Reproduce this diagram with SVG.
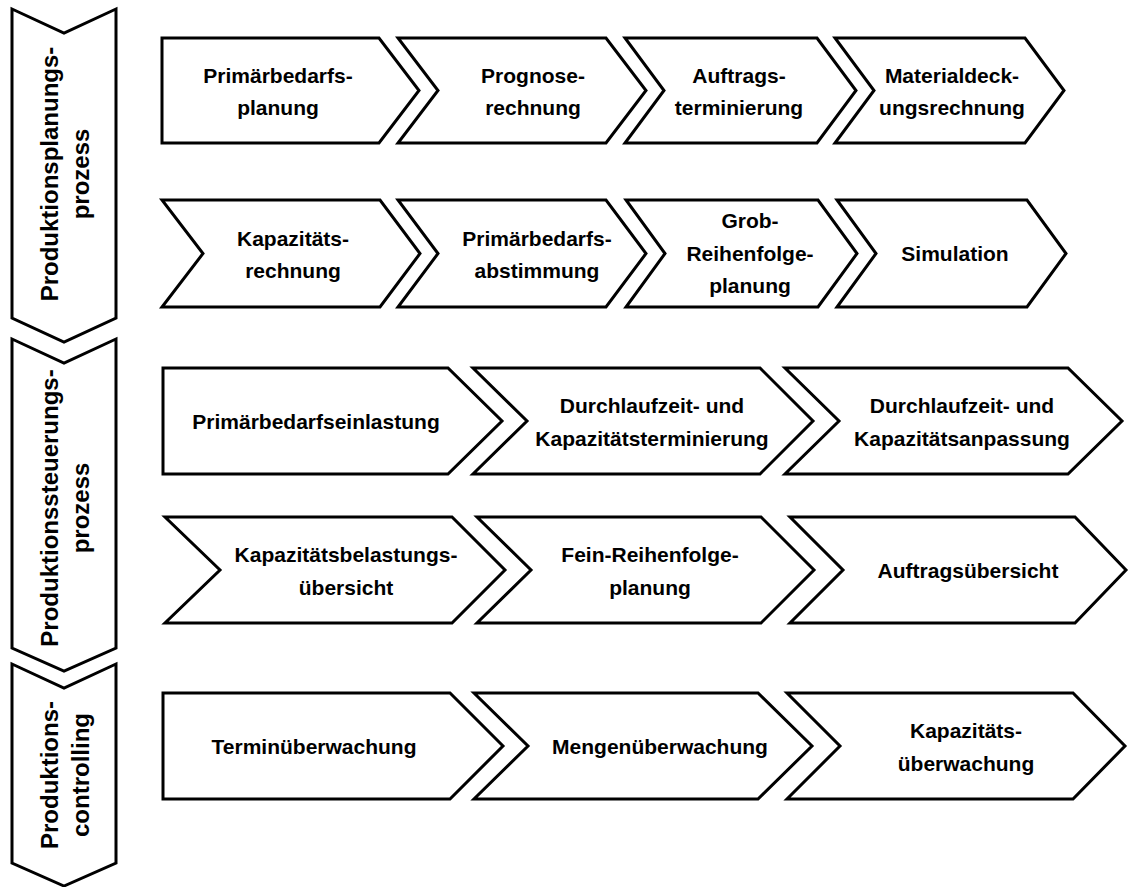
<svg xmlns="http://www.w3.org/2000/svg" width="1129" height="887" viewBox="0 0 1129 887">
  <style>
    .shape { fill: #ffffff; stroke: #000000; stroke-width: 3; stroke-linejoin: miter; }
    .lbl { font-family: "Liberation Sans", Arial, Helvetica, sans-serif; font-weight: bold; font-size: 21px; fill: #000000; text-anchor: middle; }
    .side { font-family: "Liberation Sans", Arial, Helvetica, sans-serif; font-weight: bold; font-size: 24px; fill: #000000; text-anchor: middle; }
  </style>
  <rect x="0" y="0" width="1129" height="887" fill="#ffffff"/>

  <!-- Phase chevrons along the left edge (pointing down) -->
  <g id="phase-planung">
    <polygon class="shape" points="12,9 64,33 116,9 116,318 64,342 12,318"/>
    <text class="side" transform="translate(58,174) rotate(-90)">Produktionsplanungs-</text>
    <text class="side" transform="translate(89,174) rotate(-90)">prozess</text>
  </g>
  <g id="phase-steuerung">
    <polygon class="shape" points="12,339 64,363 116,339 116,648 64,671 12,648"/>
    <text class="side" transform="translate(58,508) rotate(-90)">Produktionssteuerungs-</text>
    <text class="side" transform="translate(89,508) rotate(-90)">prozess</text>
  </g>
  <g id="phase-controlling">
    <polygon class="shape" points="12,664 64,688 116,664 116,863 64,886 12,863"/>
    <text class="side" transform="translate(58,775) rotate(-90)">Produktions-</text>
    <text class="side" transform="translate(89,775) rotate(-90)">controlling</text>
  </g>

  <!-- Process steps are chained chevrons; no separate connectors -->
  <g id="connectors"></g>

  <!-- Row 1 -->
  <g id="primaerbedarfsplanung">
    <polygon class="shape" points="162,38 379,38 419,90.5 379,143 162,143"/>
    <text class="lbl" x="278" y="82.5">Primärbedarfs-</text>
    <text class="lbl" x="278" y="115">planung</text>
  </g>
  <g id="prognoserechnung">
    <polygon class="shape" points="398,38 606,38 646,90.5 606,143 398,143 438,90.5"/>
    <text class="lbl" x="533" y="82.5">Prognose-</text>
    <text class="lbl" x="533" y="115">rechnung</text>
  </g>
  <g id="auftragsterminierung">
    <polygon class="shape" points="625,38 817,38 856,90.5 817,143 625,143 664,90.5"/>
    <text class="lbl" x="739" y="82.5">Auftrags-</text>
    <text class="lbl" x="739" y="115">terminierung</text>
  </g>
  <g id="materialdeckungsrechnung">
    <polygon class="shape" points="835,38 1025,38 1064,90.5 1025,143 835,143 874,90.5"/>
    <text class="lbl" x="952" y="82.5">Materialdeck-</text>
    <text class="lbl" x="952" y="115">ungsrechnung</text>
  </g>

  <!-- Row 2 -->
  <g id="kapazitaetsrechnung">
    <polygon class="shape" points="162,200 380,200 420,253.5 380,307 162,307 203,253.5"/>
    <text class="lbl" x="293" y="245.5">Kapazitäts-</text>
    <text class="lbl" x="293" y="278">rechnung</text>
  </g>
  <g id="primaerbedarfsabstimmung">
    <polygon class="shape" points="398,200 606,200 646,253.5 606,307 398,307 438,253.5"/>
    <text class="lbl" x="537" y="245.5">Primärbedarfs-</text>
    <text class="lbl" x="537" y="278">abstimmung</text>
  </g>
  <g id="grob-reihenfolgeplanung">
    <polygon class="shape" points="626,200 818,200 857,253.5 818,307 626,307 665,253.5"/>
    <text class="lbl" x="750" y="228">Grob-</text>
    <text class="lbl" x="750" y="260.5">Reihenfolge-</text>
    <text class="lbl" x="750" y="293">planung</text>
  </g>
  <g id="simulation">
    <polygon class="shape" points="837,200 1027,200 1066,253.5 1027,307 837,307 876,253.5"/>
    <text class="lbl" x="955" y="261">Simulation</text>
  </g>

  <!-- Row 3 -->
  <g id="primaerbedarfseinlastung">
    <polygon class="shape" points="163,368 448,368 502,421 448,474 163,474"/>
    <text class="lbl" x="316" y="428.5">Primärbedarfseinlastung</text>
  </g>
  <g id="kapazitaetsterminierung">
    <polygon class="shape" points="473,368 760,368 813,421 760,474 473,474 527,421"/>
    <text class="lbl" x="652" y="413">Durchlaufzeit- und</text>
    <text class="lbl" x="652" y="445.5">Kapazitätsterminierung</text>
  </g>
  <g id="kapazitaetsanpassung">
    <polygon class="shape" points="785,368 1068,368 1122,421 1068,474 785,474 839,421"/>
    <text class="lbl" x="962" y="413">Durchlaufzeit- und</text>
    <text class="lbl" x="962" y="445.5">Kapazitätsanpassung</text>
  </g>

  <!-- Row 4 -->
  <g id="kapazitaetsbelastungsuebersicht">
    <polygon class="shape" points="165,517 452,517 505,570 452,623 165,623 220,570"/>
    <text class="lbl" x="346" y="562">Kapazitätsbelastungs-</text>
    <text class="lbl" x="346" y="594.5">übersicht</text>
  </g>
  <g id="fein-reihenfolgeplanung">
    <polygon class="shape" points="477,517 761,517 814,570 761,623 477,623 531,570"/>
    <text class="lbl" x="650" y="562">Fein-Reihenfolge-</text>
    <text class="lbl" x="650" y="594.5">planung</text>
  </g>
  <g id="auftragsuebersicht">
    <polygon class="shape" points="790,517 1075,517 1126,570 1075,623 790,623 843,570"/>
    <text class="lbl" x="968" y="577.5">Auftragsübersicht</text>
  </g>

  <!-- Row 5 -->
  <g id="terminueberwachung">
    <polygon class="shape" points="163,693 450,693 503,746 450,799 163,799"/>
    <text class="lbl" x="314" y="754">Terminüberwachung</text>
  </g>
  <g id="mengenueberwachung">
    <polygon class="shape" points="474,693 758,693 812,746 758,799 474,799 528,746"/>
    <text class="lbl" x="660" y="754">Mengenüberwachung</text>
  </g>
  <g id="kapazitaetsueberwachung">
    <polygon class="shape" points="787,693 1073,693 1125,746 1073,799 787,799 840,746"/>
    <text class="lbl" x="966" y="738">Kapazitäts-</text>
    <text class="lbl" x="966" y="770.5">überwachung</text>
  </g>
</svg>
